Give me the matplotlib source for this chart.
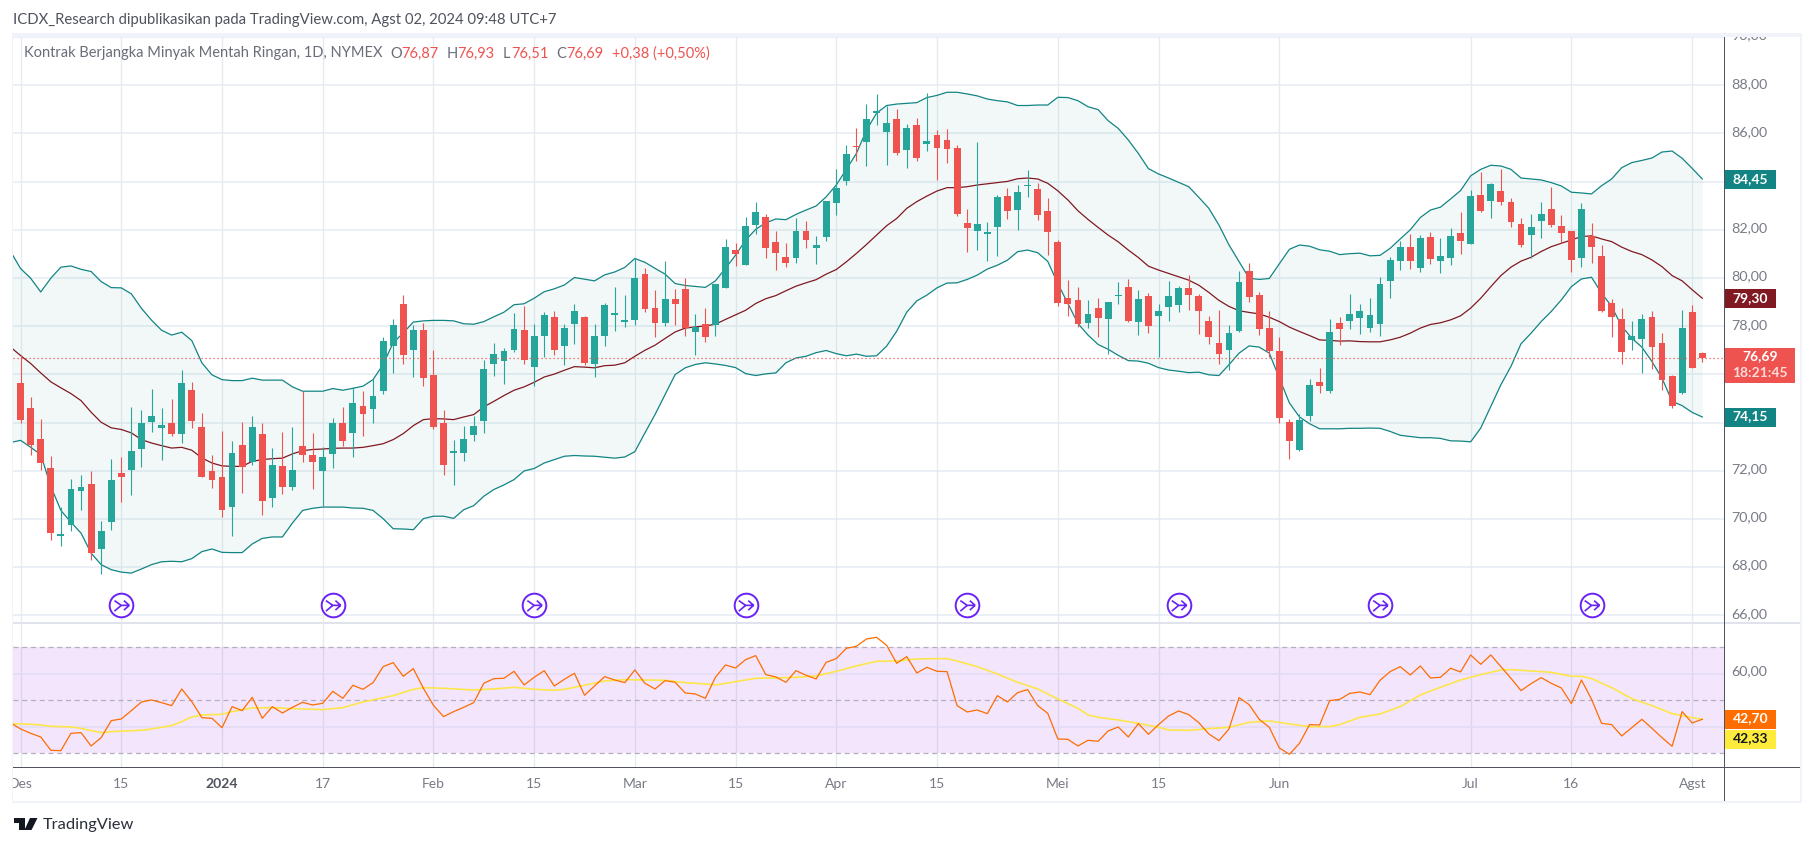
import numpy as np
import matplotlib
matplotlib.use('Agg')
import matplotlib.pyplot as plt
from matplotlib.patches import Rectangle, Polygon
from matplotlib.path import Path
from matplotlib.transforms import Bbox, blended_transform_factory

plt.rcParams['font.family'] = ['Lato', 'DejaVu Sans']

# candles, Des 1 2023 .. Agst 2 2024
opens = [75.62,74.62,73.33,72.13,69.27,69.76,71.14,71.46,68.73,69.86,
         71.92,72.04,72.92,74.04,73.79,73.96,73.54,75.37,73.83,72.0,
         71.75,70.51,73.08,72.36,73.54,70.88,72.21,71.34,73.04,72.67,
         72.0,72.71,73.96,73.58,74.7,74.58,75.29,77.16,78.93,77.03,
         77.86,75.99,73.96,72.75,72.75,73.5,74.08,76.41,76.57,77.03,
         77.86,76.32,77.61,78.36,77.16,78.07,78.4,76.41,77.61,78.47,
         78.17,78.25,80.16,78.75,78.12,79.12,79.54,77.75,78.08,78.04,
         79.58,81.16,80.53,82.2,82.53,81.49,80.87,80.83,81.95,81.24,
         81.7,83.11,84.02,85.47,85.65,86.85,86.06,86.6,85.31,86.35,
         85.56,85.94,85.73,85.4,82.28,81.95,81.82,82.11,83.4,82.82,
         83.82,83.69,82.78,81.49,79.16,79.08,78.12,78.75,78.29,79.25,
         79.62,78.17,79.25,78.42,78.79,78.87,79.58,79.25,78.22,77.29,
         77.02,77.81,80.29,79.30,77.93,76.98,74.03,72.87,74.28,75.69,
         75.32,78.14,78.22,78.35,77.93,78.1,79.88,80.71,81.29,80.42,
         81.7,80.71,80.83,81.87,81.41,83.45,83.2,83.61,83.16,82.24,
         81.79,82.37,82.87,82.16,81.95,80.83,81.75,80.92,78.97,78.3,
         77.43,77.47,78.39,77.31,75.94,75.23,78.59,76.87]
highs = [76.82,75.06,74.15,72.63,70.49,71.67,71.84,72.0,69.93,72.5,
         72.58,74.66,74.5,75.41,74.62,74.99,76.2,75.7,74.41,72.67,
         73.66,73.25,74.04,74.29,74.0,72.96,73.62,73.83,75.29,73.58,
         73.0,74.2,74.66,75.49,75.29,75.79,77.53,78.28,79.3,78.03,
         78.15,76.99,74.54,73.29,73.87,74.25,76.61,77.32,77.11,78.53,
         78.82,78.11,78.57,78.61,78.11,78.94,78.44,78.07,78.98,79.61,
         79.29,80.81,80.4,79.5,80.7,79.54,79.98,78.5,78.75,79.75,
         81.61,81.45,82.53,83.15,82.65,81.95,81.45,82.49,82.36,81.74,
         83.19,84.52,85.52,86.23,87.22,87.64,87.14,87.02,86.39,86.64,
         87.68,86.14,86.19,85.52,82.86,85.65,82.32,83.44,83.73,83.86,
         84.48,83.94,83.32,81.57,79.91,79.62,79.08,79.16,79.0,79.83,
         79.95,79.5,79.37,78.91,79.87,79.66,80.12,79.33,78.43,78.68,
         78.05,80.29,80.63,79.42,78.64,77.56,74.16,74.36,75.82,76.27,
         78.3,78.39,79.35,78.93,79.17,80.05,80.88,81.54,81.83,81.79,
         81.91,81.66,82.08,82.74,83.65,84.4,83.96,84.53,83.32,82.49,
         82.66,83.16,83.78,82.62,81.95,83.12,82.29,81.37,79.13,78.76,
         78.22,78.51,78.64,77.72,75.98,78.68,78.88,76.93]
lows = [73.96,72.67,72.04,69.14,68.86,69.51,70.38,68.28,67.72,69.55,
        70.69,71.0,72.16,73.62,72.46,73.42,73.17,73.79,71.75,71.3,
        70.09,69.3,71.09,72.25,70.17,70.51,71.05,71.21,72.38,71.25,
        70.55,72.13,73.04,72.58,73.46,73.96,75.2,76.07,76.45,75.87,
        75.53,73.75,71.84,71.42,72.42,73.25,73.58,75.95,75.58,76.91,
        76.41,75.53,76.74,76.82,76.37,77.28,76.37,75.87,77.17,77.81,
        77.97,78.04,78.6,77.54,78.0,78.04,77.58,76.8,77.33,77.58,
        79.58,80.49,80.53,81.82,80.83,80.33,80.45,80.62,81.24,80.58,
        81.53,82.61,83.86,84.86,84.65,86.35,84.69,85.11,84.57,84.86,
        85.27,84.07,84.77,82.57,81.07,81.16,80.7,80.91,82.45,81.99,
        83.36,82.4,80.95,78.83,78.42,77.96,77.92,77.54,76.86,78.91,
        78.17,77.63,77.71,76.73,78.21,78.58,78.66,77.67,77.27,76.44,
        76.19,77.74,79.01,77.64,76.74,73.98,72.5,72.83,74.07,75.23,
        75.23,77.23,77.89,77.68,77.76,77.6,79.17,80.34,80.38,80.25,
        80.59,80.21,80.54,81.0,81.41,82.74,82.49,83.03,82.12,81.29,
        80.83,81.66,82.12,81.46,80.25,80.46,80.63,78.59,77.56,76.44,
        77.02,76.06,76.23,75.36,74.61,75.19,76.27,76.51]
closes = [74.09,73.06,72.31,69.40,69.39,71.25,71.34,68.6,69.51,71.63,
          71.75,72.83,73.96,74.25,73.91,73.54,75.62,74.08,71.75,71.63,
          70.38,72.75,72.16,73.83,70.76,72.25,71.34,72.04,72.67,72.38,
          72.58,74.0,73.25,74.79,74.37,75.12,77.4,78.03,76.8,77.86,
          75.83,73.83,72.25,72.79,73.33,73.87,76.24,76.86,76.95,77.9,
          76.61,77.61,78.48,77.03,77.94,78.65,76.49,77.61,78.87,78.53,
          78.24,79.99,78.71,78.12,79.12,78.91,77.92,77.96,77.54,79.75,
          81.28,80.99,82.15,82.74,81.24,81.03,80.62,81.95,81.57,81.37,
          83.19,83.73,85.15,85.44,86.6,86.93,86.43,85.19,86.23,84.98,
          85.69,85.4,85.35,82.65,82.07,82.24,81.91,83.36,82.78,83.57,
          83.86,82.61,81.91,78.96,78.91,78.08,78.5,78.33,79.0,79.29,
          78.21,79.12,78.0,78.62,79.25,79.58,79.29,78.62,77.56,76.85,
          77.72,79.84,79.22,77.89,76.98,74.2,73.24,74.11,75.57,75.52,
          77.76,77.89,78.51,78.64,78.47,79.76,80.75,81.29,80.71,81.66,
          80.79,80.92,81.75,81.54,83.41,82.78,83.9,83.16,82.33,81.37,
          82.12,82.66,82.2,81.87,80.75,82.87,81.29,78.64,78.39,76.93,
          77.6,78.3,77.14,75.77,74.7,77.93,76.27,76.69]

# bollinger bands, first value is the bar left of the frame
bb_upper = [81.1,
            80.39,79.99,79.42,79.99,80.45,80.5,80.36,80.27,79.85,79.6,
            79.59,79.34,78.74,78.25,77.83,77.63,77.75,77.4,76.48,75.98,
            75.78,75.74,75.74,75.84,75.76,75.76,75.76,75.48,75.3,75.3,
            75.3,75.41,75.34,75.42,75.51,75.78,76.41,77.31,77.72,78.17,
            78.22,78.24,78.24,78.22,78.1,78.08,78.19,78.39,78.58,78.89,
            78.93,79.16,79.43,79.55,79.71,80.02,79.95,79.88,80.13,80.25,
            80.44,80.81,80.65,80.4,80.16,79.77,79.69,79.65,79.61,79.88,
            80.4,80.95,81.57,82.02,82.29,82.45,82.42,82.64,82.82,82.99,
            83.37,83.86,84.51,85.17,86.14,86.84,87.16,87.22,87.25,87.28,
            87.49,87.58,87.71,87.71,87.64,87.56,87.43,87.36,87.31,87.16,
            87.16,87.18,87.18,87.5,87.49,87.36,87.11,86.99,86.53,86.21,
            85.73,85.17,84.54,84.32,84.15,83.97,83.79,83.35,82.89,82.2,
            81.37,80.68,79.99,79.94,79.98,80.59,81.19,81.37,81.32,81.17,
            81.11,80.97,81.01,81.03,80.92,80.94,81.23,81.62,82.0,82.51,
            82.82,82.94,83.28,83.63,84.24,84.51,84.68,84.65,84.51,84.15,
            84.11,84.07,83.96,83.82,83.56,83.53,83.49,83.83,84.11,84.58,
            84.79,84.88,84.98,85.23,85.27,84.97,84.55,84.11]
bb_basis = [77.13,
            76.78,76.45,76.06,75.69,75.44,75.2,74.91,74.43,74.01,73.78,
            73.71,73.57,73.29,73.15,73.04,72.94,72.97,72.85,72.53,72.32,
            72.2,72.18,72.18,72.39,72.46,72.5,72.52,72.7,72.83,72.88,
            72.9,72.93,72.94,72.94,72.97,73.04,73.12,73.29,73.54,73.87,
            74.12,74.16,74.15,74.12,74.23,74.33,74.65,74.88,75.12,75.34,
            75.48,75.67,75.89,76.01,76.17,76.32,76.3,76.27,76.36,76.38,
            76.48,76.75,77.0,77.21,77.49,77.76,77.92,77.97,78.01,78.08,
            78.28,78.47,78.66,78.94,79.14,79.27,79.47,79.66,79.8,79.93,
            80.16,80.35,80.67,81.02,81.39,81.78,82.17,82.47,82.89,83.17,
            83.4,83.61,83.75,83.75,83.79,83.86,83.91,83.96,84.01,84.12,
            84.15,84.11,83.93,83.62,83.24,82.79,82.43,82.1,81.78,81.5,
            81.16,80.85,80.49,80.33,80.19,80.05,79.91,79.7,79.4,79.07,
            78.82,78.64,78.57,78.51,78.37,78.19,77.96,77.78,77.61,77.43,
            77.41,77.38,77.39,77.36,77.35,77.35,77.43,77.54,77.71,77.92,
            78.07,78.14,78.26,78.43,78.75,79.16,79.64,80.1,80.45,80.7,
            80.86,81.1,81.3,81.44,81.58,81.72,81.75,81.62,81.51,81.28,
            81.1,80.97,80.75,80.47,80.1,79.88,79.51,79.16]
bb_lower = [73.17,
            73.26,72.97,72.67,71.35,70.35,69.86,69.41,68.58,68.1,67.89,
            67.79,67.75,67.92,68.1,68.22,68.24,68.22,68.35,68.64,68.75,
            68.61,68.6,68.6,68.96,69.19,69.25,69.25,69.83,70.35,70.44,
            70.49,70.49,70.49,70.45,70.44,70.35,70.01,69.59,69.58,69.55,
            70.01,70.11,70.11,70.02,70.38,70.55,70.94,71.22,71.41,71.63,
            71.99,72.09,72.32,72.46,72.6,72.63,72.61,72.6,72.56,72.52,
            72.57,72.79,73.57,74.33,75.16,75.99,76.27,76.41,76.48,76.43,
            76.37,76.28,76.03,75.95,76.02,76.06,76.48,76.68,76.75,76.9,
            76.99,76.86,76.77,76.84,76.75,76.77,77.17,77.79,78.58,79.05,
            79.29,79.59,79.79,79.8,79.94,80.12,80.37,80.53,80.74,81.09,
            81.16,81.05,80.69,79.77,78.94,78.11,77.63,77.24,77.04,76.79,
            76.57,76.55,76.46,76.28,76.18,76.13,76.07,76.09,75.98,75.95,
            76.4,76.88,77.18,77.13,76.88,75.84,74.81,74.23,73.95,73.74,
            73.74,73.74,73.76,73.76,73.77,73.76,73.63,73.47,73.42,73.37,
            73.37,73.34,73.24,73.23,73.2,73.77,74.67,75.57,76.33,77.27,
            77.71,78.19,78.61,79.09,79.64,79.96,80.03,79.37,78.82,77.99,
            77.5,77.13,76.53,75.84,74.88,74.7,74.42,74.23]

# rsi, same bars as the bands
rsi = [41.5,
       39.18,37.55,36.16,31.13,31.01,37.55,37.8,32.77,35.91,42.33,
       42.96,46.1,49.37,50.13,49.12,47.99,54.28,49.5,43.46,43.21,
       39.69,47.61,46.1,51.13,43.21,47.61,45.22,47.36,49.25,48.24,
       48.87,53.4,50.75,55.66,54.15,56.67,62.7,64.21,59.06,61.95,
       54.53,48.11,43.84,45.72,47.36,49.12,56.42,58.18,58.3,60.94,
       55.79,58.68,61.19,55.41,57.92,60.19,51.89,55.41,58.93,57.67,
       56.67,61.45,56.42,54.28,57.42,56.79,52.77,52.39,50.75,58.68,
       63.33,62.2,65.35,66.86,59.69,58.81,56.79,61.19,59.43,58.05,
       64.34,65.72,69.62,70.38,73.14,73.77,70.75,63.96,66.48,60.31,
       62.45,60.94,60.82,47.99,45.6,46.35,44.97,51.76,49.37,52.89,
       54.03,47.99,45.09,35.41,35.28,32.77,34.91,34.53,38.43,39.94,
       36.16,41.19,37.17,40.82,44.09,45.97,44.59,41.57,37.3,34.78,
       39.18,51.01,48.36,42.83,39.81,32.01,29.62,33.77,40.82,40.69,
       49.87,50.38,52.64,53.14,52.14,57.55,60.82,62.7,59.56,62.96,
       58.43,58.68,62.08,60.69,67.11,63.58,67.11,62.7,58.3,53.65,
       56.29,58.55,56.42,54.65,48.74,57.67,50.38,41.32,40.82,36.54,
       39.69,42.83,39.43,35.91,32.64,45.72,41.45,42.83]

# rsi moving average, read at its visible bends
ma_bars = [-1,0,1,2,3,5,6,7,8,9,11,12,13,15,16,17,18,20,21,23,25,27,30,32,34,37,39,40,42,45,
           47,49,51,53,54,56,58,60,62,64,66,68,69,71,73,75,77,79,81,83,85,87,89,91,92,93,95,
           97,99,101,103,105,106,107,109,111,113,114,116,118,120,122,124,126,128,130,131,133,
           135,137,139,141,143,145,147,148,150,152,154,155,156,158,160,162,164,166,167]
ma_vals = [41.2,41.07,40.94,40.69,40.19,39.94,39.43,38.55,37.8,38.18,38.55,38.68,39.18,40.44,41.95,
           43.71,44.47,44.72,45.72,47.11,47.23,46.86,46.48,47.23,49.37,51.76,54.15,54.78,54.53,53.9,
           54.28,54.91,54.15,53.77,54.15,55.66,57.3,57.8,57.67,57.55,56.67,56.16,55.79,57.04,58.3,
           58.43,58.68,59.18,60.94,62.96,64.72,64.84,65.6,65.72,65.72,64.84,62.7,59.94,56.79,54.28,
           50.5,46.98,44.47,43.58,42.58,41.32,39.81,38.81,38.68,39.31,39.81,41.7,42.2,41.07,40.06,
           40.06,40.82,43.58,44.84,47.61,52.01,54.91,57.67,59.69,61.45,61.57,61.07,60.57,59.06,59.06,
           58.18,54.78,50.63,47.99,44.97,43.46,42.83]

tick_bars = [0,10,20,30,41,51,61,71,81,91,103,113,125,144,154,166]
tick_labels = ['Des','15','2024','17','Feb','15','Mar','15','Apr','15','Mei','15','Jun','Jul','16','Agst']
event_bars = [10,31,51,72,94,115,135,156]
price_ticks = [66,68,70,72,74,76,78,80,82,84,86,88,90]
price_tick_labels = ['66,00','68,00','70,00','72,00','78,00','80,00','82,00','86,00','88,00','90,00']
price_tick_vals = [66,68,70,72,78,80,82,86,88,90]

UP = '#26a69a'
DOWN = '#ef5350'
BAND = '#138484'
BASIS = '#801922'
GRID = '#e4ecf2'
TEXT = '#787b86'

W, H = 1814, 846
fig = plt.figure(figsize=(W / 100, H / 100), dpi=100, facecolor='white')


def px_axes(left, top, right, bottom):
    return fig.add_axes([left / W, 1 - bottom / H, (right - left) / W, (bottom - top) / H])


def ftext(x, y, s, **kw):
    kw.setdefault('va', 'center')
    return fig.text(x / W, 1 - y / H, s, **kw)


def frect(x0, y0, x1, y1, color, zorder=5):
    fig.add_artist(Rectangle((x0 / W, 1 - y1 / H), (x1 - x0) / W, (y1 - y0) / H,
                             transform=fig.transFigure, facecolor=color, edgecolor='none', zorder=zorder))


def bar_x(px):
    return (px - 20.6) / 10.07


LEFT, AXIS_X = 13, 1724.7
MAIN_TOP, SPLIT, RSI_BOTTOM = 37.1, 622.7, 767.7

ax = px_axes(LEFT, MAIN_TOP, AXIS_X, SPLIT)
ax_rsi = px_axes(LEFT, SPLIT, AXIS_X, RSI_BOTTOM)
for a in (ax, ax_rsi):
    a.set_xlim(bar_x(LEFT), bar_x(AXIS_X))
    a.axis('off')
    a.vlines(tick_bars, 0, 1, transform=a.get_xaxis_transform(), color=GRID, lw=1.0, zorder=1)
ax.set_ylim(65.69, 90.0)
ax_rsi.set_ylim(24.57, 79.28)

ax.hlines(price_ticks, 0, 1, transform=ax.get_yaxis_transform(), color=GRID, lw=1.1, zorder=1)

# bands
band_x = np.arange(-1, 168)
ax.fill_between(band_x, bb_lower, bb_upper, color=BAND, alpha=0.05, lw=0, zorder=2)
ax.plot(band_x, bb_upper, color=BAND, lw=0.9, zorder=3)
ax.plot(band_x, bb_lower, color=BAND, lw=0.9, zorder=3)
ax.plot(band_x, bb_basis, color=BASIS, lw=0.9, zorder=3)

# candles
o = np.array(opens)
c = np.array(closes)
bars = np.arange(len(o))
colors = [UP if cl >= op else DOWN for op, cl in zip(o, c)]
ax.vlines(bars, lows, highs, colors=colors, lw=0.8, zorder=4)
ax.bar(bars, np.maximum(np.abs(c - o), 0.05), bottom=np.minimum(o, c), width=0.68, color=colors, lw=0, zorder=5)

# last price
ax.axhline(closes[-1], color=DOWN, lw=0.9, ls=(0, (1, 2.2)), zorder=6)

# event markers
arrow = Path([(-0.65, 0.45), (0.0, 0.0), (0.75, 0.0), (0.25, 0.45), (0.75, 0.0), (0.25, -0.45),
              (0.75, 0.0), (0.0, 0.0), (-0.65, -0.55)],
             [Path.MOVETO, Path.LINETO, Path.LINETO, Path.MOVETO, Path.LINETO, Path.MOVETO,
              Path.LINETO, Path.MOVETO, Path.LINETO])
ev_y = [66.41] * len(event_bars)
ax.scatter(event_bars, ev_y, s=290, facecolor='white', edgecolor='#6a22f5', lw=1.4, zorder=7, clip_on=False)
ax.scatter(event_bars, ev_y, s=130, marker=arrow, facecolor='none', edgecolor='#6a22f5', lw=1.2, zorder=8, clip_on=False)

# rsi panel
ax_rsi.axhspan(30, 70, facecolor='#9105eb', alpha=0.1, lw=0, zorder=1)
ax_rsi.hlines([40, 60], 0, 1, transform=ax_rsi.get_yaxis_transform(), color='#e2daf5', lw=1.1, zorder=2)
ax_rsi.hlines([30, 50, 70], 0, 1, transform=ax_rsi.get_yaxis_transform(), color='#b4aebf', lw=0.9,
              ls=(0, (4, 3)), zorder=2)
ax_rsi.plot(ma_bars, ma_vals, color='#fde64b', lw=1.2, zorder=3)
ax_rsi.plot(band_x, rsi, color='#ff6d00', lw=0.9, zorder=4)

# frame and axis lines
frect(12, 33, 1802, 36.7, '#f0f3fa')
frect(12, 33, 13, 803, '#f0f3fa')
frect(1800, 33, 1802, 803, '#f0f3fa')
frect(12, 801, 1802, 803, '#f0f3fa')
frect(13, SPLIT - 1, 1800, SPLIT + 1, '#e0e3eb')
frect(13, RSI_BOTTOM - 0.7, 1800, RSI_BOTTOM + 0.7, '#50535e')
frect(AXIS_X - 0.7, 36.7, AXIS_X + 0.7, 801, '#50535e')

# axis texts
clip = Bbox([[LEFT, H - 801], [AXIS_X, H - RSI_BOTTOM]])
trans = blended_transform_factory(ax.transData, fig.transFigure)
for b, lab in zip(tick_bars, tick_labels):
    t = ax.text(b, 1 - 784 / H, lab, transform=trans, ha='center', va='center', fontsize=10, color=TEXT if lab != '2024' else '#50535e',
                fontweight='bold' if lab == '2024' else 'normal', clip_on=True, zorder=20)
    t.set_clip_box(clip)

ytrans = blended_transform_factory(fig.transFigure, ax.transData)
top_clip = Bbox([[AXIS_X, 0], [1800, H - 36.7]])
for v, lab in zip(price_tick_vals, price_tick_labels):
    # labels sit a little above their grid line
    t = ax.text(1749 / W, v + 0.06, lab, transform=ytrans, ha='center', va='center', fontsize=10.3, color=TEXT, clip_on=True, zorder=20)
    t.set_clip_box(top_clip)
ftext(1749, 671, '60,00', ha='center', fontsize=10.3, color=TEXT, zorder=20)


def label(y0, y1, lines, bg, right=1776, fg='white'):
    frect(AXIS_X, y0, right, y1, bg, zorder=15)
    for yy, s, al in lines:
        ftext((AXIS_X + right) / 2, yy, s, ha='center', fontsize=10, color=fg, alpha=al, fontweight='bold', zorder=16)


label(170, 189, [(179, '84,45', 1)], '#138484')
label(289, 307.7, [(298, '79,30', 1)], '#801922')
label(348, 382.7, [(356.5, '76,69', 1), (372.5, '18:21:45', 0.8)], '#ef5350', right=1795)
label(407.7, 426.7, [(416.5, '74,15', 1)], '#138484')
label(710, 728.7, [(718.5, '42,70', 1)], '#ff6d00')
label(730, 748.7, [(738.5, '42,33', 1)], '#ffeb3b', fg='#131722')

# header and legend
ftext(13, 20, 'ICDX_Research dipublikasikan pada TradingView.com, Agst 02, 2024 09:48 UTC+7', fontsize=10.7, color='#50535e')
ftext(23.7, 53.5, 'Kontrak Berjangka Minyak Mentah Ringan, 1D, NYMEX', fontsize=10.5, color='#6a6d78')
for xx, s, col in [(390.7, 'O', '#6a6d78'), (401, '76,87', DOWN), (447, 'H', '#6a6d78'), (457.5, '76,93', DOWN),
                   (503, 'L', '#6a6d78'), (511, '76,51', DOWN), (556, 'C', '#6a6d78'), (566, '76,69', DOWN),
                   (612, '+0,38 (+0,50%)', DOWN)]:
    ftext(xx, 53.5, s, fontsize=10.5, color=col)

# logo
to_fig = lambda pts: [(x / W, 1 - y / H) for x, y in pts]
logo = [[(13.5, 818), (25, 818), (25, 830), (19, 830), (19, 823), (13.5, 823)],
        [(30, 818), (37.5, 818), (31.5, 830), (24.5, 830)]]
for pts in logo:
    fig.add_artist(Polygon(to_fig(pts), closed=True, transform=fig.transFigure, facecolor='#131722', edgecolor='none'))
ftext(43, 824.5, 'TradingView', fontsize=11.8, color='#2a2e39')

fig.savefig('out.png', dpi=100)
